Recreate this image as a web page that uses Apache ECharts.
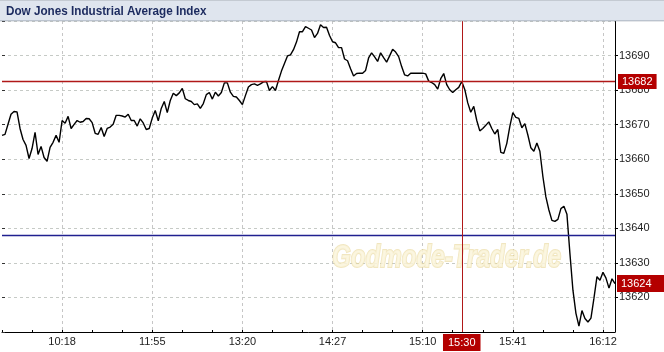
<!DOCTYPE html>
<html>
<head>
<meta charset="utf-8">
<script src="https://cdn.jsdelivr.net/npm/echarts@6/dist/echarts.min.js"></script>
<style>
html,body{margin:0;padding:0;background:#fff;}
#chart{width:664px;height:352px;}
</style>
</head>
<body>
<div id="chart"></div>
<script>
// Index values (one per sample, left to right)
const values = [
13666.9,13667.2,13670.1,13673.0,13673.8,13673.7,13668.9,13665.7,13664.0,13660.2,
13663.1,13667.8,13661.4,13663.7,13660.5,13659.4,13663.4,13664.9,13666.9,13664.9,
13671.2,13670.4,13672.4,13668.9,13670.1,13671.2,13670.7,13670.9,13671.8,13671.7,
13670.6,13667.5,13667.2,13669.2,13666.6,13668.9,13669.3,13670.1,13672.7,13672.7,
13672.5,13672.2,13673.0,13671.2,13671.2,13669.6,13671.7,13670.5,13668.6,13668.9,
13671.9,13674.1,13671.1,13674.7,13676.7,13673.5,13677.0,13679.1,13678.4,13679.2,
13680.5,13677.5,13677.0,13676.7,13675.8,13676.0,13674.7,13676.1,13678.7,13679.3,
13677.4,13679.4,13678.3,13679.3,13682.1,13682.1,13679.4,13678.2,13678.0,13677.0,
13675.8,13678.4,13680.9,13681.6,13681.8,13681.4,13681.8,13682.4,13682.5,13679.9,
13681.0,13679.9,13682.8,13685.5,13687.7,13689.9,13690.2,13691.7,13693.9,13696.9,
13696.9,13698.4,13697.9,13697.4,13695.2,13696.4,13698.9,13698.1,13698.2,13695.8,
13694.0,13693.7,13692.3,13692.3,13689.0,13688.5,13686.2,13684.1,13684.8,13684.9,
13684.9,13685.7,13689.3,13690.8,13689.6,13688.3,13690.8,13689.4,13688.1,13689.9,
13691.8,13691.0,13689.7,13686.8,13684.4,13684.1,13684.9,13684.9,13684.9,13684.9,
13684.9,13684.7,13682.6,13682.2,13681.6,13680.3,13683.3,13684.8,13681.6,13680.1,
13679.3,13680.1,13680.8,13682.5,13680.2,13676.3,13673.6,13675.3,13671.2,13668.2,
13668.9,13669.8,13670.8,13668.9,13667.3,13668.6,13662.0,13661.7,13664.6,13669.5,
13673.5,13672.1,13671.8,13669.1,13670.3,13667.0,13663.3,13662.3,13664.7,13662.3,
13655.0,13649.1,13645.3,13642.3,13642.0,13642.6,13645.7,13646.4,13644.1,13632.7,
13622.1,13615.4,13611.7,13616.2,13613.9,13612.9,13614.0,13619.8,13626.0,13625.0,
13627.3,13625.6,13622.7,13625.4,13624.0
];
// Time tick labels and the sample index where each sits
const tickIndex = [20, 50, 80, 110, 140, 170, 200];
const tickLabels = ['10:18', '11:55', '13:20', '14:27', '15:10', '15:41', '16:12'];
// Reference lines
const prevClose = 13638;
const cursorValue = 13682.5;
const cursorIndex = 153;
const cursorTime = '15:30';
// Value axis range
const yMin = 13610, yMax = 13700, yStep = 10;
const titleText = 'Dow Jones Industrial Average Index';
const watermarkText = 'Godmode-Trader.de';

const categories = values.map((v, i) => i);
const isMajor = (i) => tickIndex.indexOf(i) >= 0;
const FONT = 'Liberation Sans, Arial, sans-serif';
const RED_BOX = '#b40000';
const RED_LINE = '#b01818';
const NAVY_LINE = '#202090';

function refLine(data, color, width, label) {
  return {
    type: 'line',
    data: [],
    silent: true,
    z: 4,
    markLine: {
      silent: true,
      symbol: ['none', 'none'],
      animation: false,
      lineStyle: {color: color, type: 'solid', width: width, opacity: 1},
      emphasis: {disabled: true},
      label: label,
      data: [data]
    }
  };
}

const chart = echarts.init(document.getElementById('chart'), null, {renderer: 'canvas'});
chart.setOption({
  animation: false,
  backgroundColor: '#fff',
  grid: {left: 2, right: 49, top: 21, bottom: 20, containLabel: false},
  xAxis: {
    type: 'category',
    data: categories,
    boundaryGap: false,
    axisLine: {show: true, lineStyle: {color: '#000', width: 1}},
    axisTick: {show: true, inside: true, length: 2, interval: (i) => i % 10 === 0, lineStyle: {color: '#000'}},
    axisLabel: {
      interval: (i) => isMajor(i),
      formatter: (v, i) => tickLabels[tickIndex.indexOf(i)] || '',
      color: '#222', fontSize: 11, fontFamily: FONT, margin: 4
    },
    splitLine: {show: true, interval: (i) => isMajor(i), lineStyle: {color: '#c6c6c6', type: [3, 3], width: 1}}
  },
  yAxis: [{
    type: 'value',
    position: 'right',
    min: yMin, max: yMax, interval: yStep,
    axisLine: {show: true, lineStyle: {color: '#000', width: 1}},
    axisTick: {show: true, length: 3, lineStyle: {color: '#000'}},
    axisLabel: {showMinLabel: false, showMaxLabel: false, color: '#222', fontSize: 11, fontFamily: FONT, margin: 4,
                formatter: (v) => String(v)},
    splitLine: {show: true, lineStyle: {color: '#c6cac6', type: [3, 3], width: 1}}
  }, {
    type: 'value',
    position: 'left',
    min: yMin, max: yMax, interval: yStep,
    axisLine: {show: false},
    axisTick: {show: true, inside: true, length: 3, lineStyle: {color: '#333'}},
    axisLabel: {show: false},
    splitLine: {show: false}
  }],
  graphic: [
    {type: 'rect', z: 10, shape: {x: 0, y: 0, width: 664, height: 21},
     style: {fill: '#dfe5ee', stroke: null}},
    {type: 'rect', z: 11, shape: {x: 0, y: 20.5, width: 664, height: 0.8},
     style: {fill: '#98a1ad'}},
    {type: 'rect', z: 11, shape: {x: 0, y: 0, width: 664, height: 1},
     style: {fill: '#c4cad2'}},
    {type: 'text', z: 12, x: 6, y: 11, scaleX: 0.9,
     style: {text: titleText, fill: '#1b2a5e', font: 'bold 13px ' + FONT, verticalAlign: 'middle', align: 'left'}},
    {type: 'text', z: 1, x: 332, y: 258, scaleX: 0.755,
     style: {text: watermarkText, fill: 'rgba(250,244,220,0.85)', stroke: 'rgba(232,214,150,0.6)', lineWidth: 2,
             font: 'italic bold 32px ' + FONT, verticalAlign: 'middle', align: 'left'}}
  ],
  series: [{
    type: 'line',
    data: values,
    showSymbol: false,
    symbol: 'none',
    lineStyle: {color: '#000', width: 1.4},
    z: 3,
    endLabel: {
      show: true,
      formatter: (p) => String(Math.round(p.value)),
      color: '#fff', fontSize: 11, fontFamily: FONT,
      backgroundColor: RED_BOX, padding: [3, 20, 3, 4], distance: 2
    }
  },
  refLine({yAxis: prevClose}, NAVY_LINE, 1.3, {show: false}),
  refLine({yAxis: cursorValue}, RED_LINE, 1.3,
          {show: true, position: 'end', distance: 3, formatter: () => String(Math.floor(cursorValue)),
           color: '#fff', fontSize: 11, fontFamily: FONT, backgroundColor: RED_BOX, padding: [2, 4, 2, 4]}),
  refLine({xAxis: cursorIndex}, RED_LINE, 1,
          {show: true, position: 'start', distance: 2, formatter: () => cursorTime,
           color: '#fff', fontSize: 11, fontFamily: FONT, backgroundColor: RED_BOX, padding: [3, 5, 3, 5]})
  ]
});
</script>
</body>
</html>
